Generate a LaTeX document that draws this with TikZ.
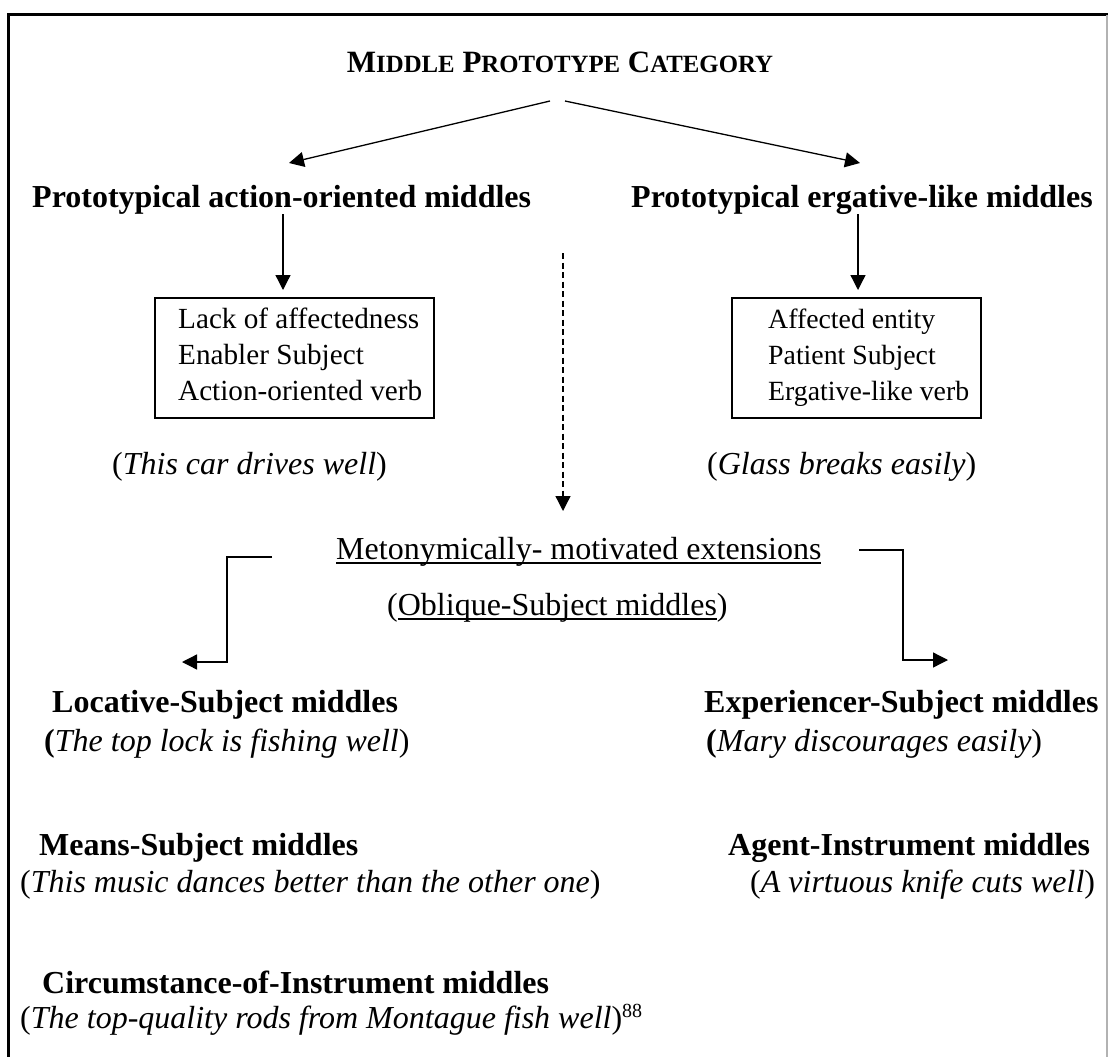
\documentclass[tikz,border=0pt]{standalone}
\usepackage{fontspec}
\setmainfont{Liberation Serif}
\usetikzlibrary{arrows.meta}

% type sizes used in the chart
\newcommand\bodysize{\fontsize{32}{38}\selectfont}
\newcommand\boxsize{\fontsize{29.2}{36}\selectfont}
\newcommand\boxsizeb{\fontsize{27.8}{36}\selectfont}
\newcommand\titlesize{\fontsize{31}{37}\selectfont}
\newcommand\lowcaps[1]{{\fontsize{24.8}{30}\selectfont #1}}
\newcommand\footmark[1]{\raisebox{11pt}{\fontsize{20}{20}\selectfont #1}}
% heavy underline
\newcommand\undl[1]{\setbox0\hbox{#1}\rlap{\rule[-4.5pt]{\wd0}{1.8pt}}\box0}

\begin{document}
\begin{tikzpicture}[x=1pt,y=-1pt,
  every node/.style={inner sep=0pt, font=\bodysize},
  txt/.style={anchor=base west},
  head/.style={anchor=base west, font=\bodysize\bfseries},
  featbox/.style={draw, line width=2.4pt, inner sep=0pt, anchor=north west, font=\boxsize},
  link/.style={line width=1.3pt, -{Triangle[length=15pt,width=15pt]}},
  dashlink/.style={link, dash pattern=on 6pt off 3.5pt},
]
\useasboundingbox (0,0) rectangle (1108,1057);

% frame round the chart (open at the bottom)
\draw[line width=2.4pt] (8.5,1057) -- (8.5,14.5) -- (1108,14.5);
\draw[line width=1.5pt, black!30] (1107.2,15.5) -- (1107.2,1057);

% title and the two prototypes
\node[anchor=base, font=\titlesize\bfseries] (title) at (560,72)
  {M\lowcaps{IDDLE} P\lowcaps{ROTOTYPE} C\lowcaps{ATEGORY}};
\coordinate (tl) at (550,101);
\coordinate (tr) at (565,101);
\coordinate (actin) at (289,163);
\coordinate (ergin) at (860,163);
\draw[link] (tl) -- (actin);
\draw[link] (tr) -- (ergin);

\node[head] (act) at (32,207) {Prototypical action-oriented middles};
\node[head] (erg) at (631,207) {Prototypical ergative-like middles};

% feature boxes
\node[featbox] (actbox) at (154,297)
  {\begin{tabular}{@{\hspace{23pt}}l@{\hspace{12pt}}}
   \rule{0pt}{30pt}Lack of affectedness\\
   Enabler Subject\\
   Action-oriented verb\rule[-18pt]{0pt}{18pt}
   \end{tabular}};
\node[featbox, font=\boxsizeb] (ergbox) at (731,297)
  {\begin{tabular}{@{\hspace{36pt}}l@{\hspace{12pt}}}
   \rule{0pt}{30pt}Affected entity\\
   Patient Subject\\
   Ergative-like verb\rule[-18pt]{0pt}{18pt}
   \end{tabular}};

\coordinate (actdown) at (283,214);
\coordinate (ergdown) at (858,214);
\draw[link, shorten >=7pt] (actdown) -- (actdown |- actbox.north);
\draw[link, shorten >=7pt] (ergdown) -- (ergdown |- ergbox.north);

\node[txt] (actex) at (112,474) {(\textit{This car drives well})};
\node[txt] (ergex) at (707,474) {(\textit{Glass breaks easily})};

% extensions
\coordinate (dstart) at (563,253);
\coordinate (dend) at (563,511);
\draw[dashlink] (dstart) -- (dend);

\node[txt] (meto) at (336,559) {\undl{Metonymically- motivated extensions}};
\node[txt] (obl) at (387,615) {(\undl{Oblique-Subject middles})};

\coordinate (lA) at (272,557);
\coordinate (lB) at (227,662);
\coordinate (ltip) at (182,662);
\draw[link] (lA) -| (lB) -- (ltip);
\coordinate (rA) at (859,550);
\coordinate (rB) at (903,660);
\coordinate (rtip) at (948,660);
\draw[link] (rA) -| (rB) -- (rtip);

% oblique-subject types
\node[head] (loc) at (52,712) {Locative-Subject middles};
\node[txt] (locex) at (44,751) {\textbf{(}\textit{The top lock is fishing well})};
\node[head] (exper) at (704,712) {Experiencer-Subject middles};
\node[txt] (experex) at (706,751) {\textbf{(}\textit{Mary discourages easily})};

\node[head] (means) at (39,855) {Means-Subject middles};
\node[txt] (meansex) at (20,892) {(\textit{This music dances better than the other one})};
\node[head] (agent) at (728,855) {Agent-Instrument middles};
\node[txt] (agentex) at (750,892) {(\textit{A virtuous knife cuts well})};

\node[head] (circ) at (42,993) {Circumstance-of-Instrument middles};
\node[txt] (circex) at (20,1028)
  {(\textit{The top-quality rods from Montague fish well})\footmark{88}};
\end{tikzpicture}
\end{document}
